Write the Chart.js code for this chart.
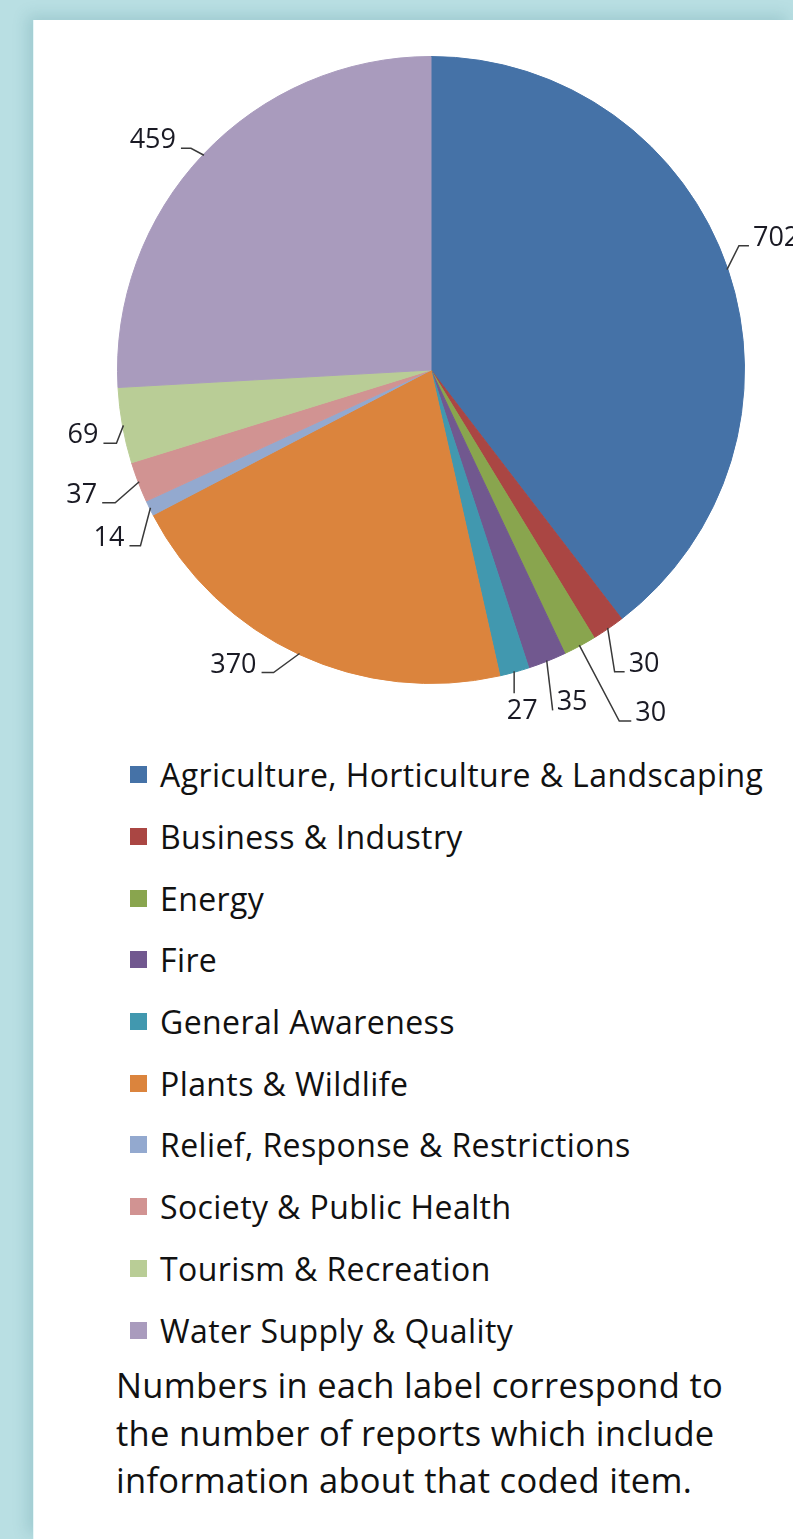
<!DOCTYPE html>
<html>
<head>
<meta charset="utf-8">
<script src="https://cdn.jsdelivr.net/npm/chart.js@4/dist/chart.umd.min.js"></script>
<style>
  html, body { margin: 0; padding: 0; }
  body {
    width: 793px; height: 1539px; overflow: hidden; position: relative;
    background: #b9dfe3;
    font-family: "Open Sans", Lato, sans-serif;
  }
  .panel {
    position: absolute; left: 33px; top: 20px; right: 0; bottom: 0;
    background: #fff;
    border-left: 1px solid #e6f6f8;
    box-shadow: -6px -5px 14px rgba(40, 110, 120, 0.18);
  }
  #pie { position: absolute; left: 0; top: 0; }
  #legend {
    position: absolute; left: 130px; top: 744px;
    margin: 0; padding: 0; list-style: none;
  }
  #legend li {
    height: 61.7px; display: flex; align-items: center;
    font-size: 32px; letter-spacing: 0.4px; color: #111; white-space: nowrap;
  }
  #legend .box { width: 17px; height: 17px; margin-right: 13px; flex: none; }
  .note {
    position: absolute; left: 116px; top: 1361px;
    font-size: 34.5px; letter-spacing: 0.3px; line-height: 47.5px; color: #111;
    white-space: nowrap;
  }
</style>
</head>
<body>
<div class="panel"></div>
<canvas id="pie" width="793" height="730"></canvas>
<ul id="legend"></ul>
<div class="note">Numbers in each label correspond to<br>the number of reports which include<br>information about that coded item.</div>

<script>
// Reports per coded item
const categories = [
  'Agriculture, Horticulture & Landscaping',
  'Business & Industry',
  'Energy',
  'Fire',
  'General Awareness',
  'Plants & Wildlife',
  'Relief, Response & Restrictions',
  'Society & Public Health',
  'Tourism & Recreation',
  'Water Supply & Quality'
]
const reportCounts = [702, 30, 30, 35, 27, 370, 14, 37, 69, 459]

// Excel 2010 default palette
const sliceColors = [
  '#4572a7', '#aa4643', '#89a54e', '#71588f', '#4198af',
  '#db843d', '#93a9cf', '#d19392', '#b9cd96', '#a99bbd'
]

// Leader line shape per slice: elbow offset from slice edge, then horizontal run
// mode: 'side' = text at end of line, 'below' = text under a vertical line
const leaderShapes = [
  { ex: 12, ey: -24, hx: 10 },
  { ex: 7, ey: 44, hx: 10 },
  { ex: 40, ey: 76, hx: 12 },
  { ex: 6, ey: 50, hx: 0 },
  { ex: 0, ey: 22, hx: 0, mode: 'below' },
  { ex: -26, ey: 19, hx: -12 },
  { ex: -10, ey: 38, hx: -11 },
  { ex: -24, ey: 21, hx: -13 },
  { ex: -7, ey: 18, hx: -13 },
  { ex: -13, ey: -7, hx: -10 }
]

// Draws the value labels with Excel-style elbow leader lines
const leaderLabels = {
  id: 'leaderLabels',
  afterDatasetsDraw(chart) {
    const ctx = chart.ctx
    const meta = chart.getDatasetMeta(0)
    ctx.save()
    ctx.font = '27px "Open Sans", Lato, sans-serif'
    ctx.fillStyle = '#1a1a24'
    ctx.strokeStyle = '#3a3a3a'
    ctx.lineWidth = 1.5
    meta.data.forEach((arc, i) => {
      const { x, y, startAngle, endAngle, outerRadius } = arc.getProps(['x', 'y', 'startAngle', 'endAngle', 'outerRadius'], true)
      const mid = (startAngle + endAngle) / 2
      const ax = x + Math.cos(mid) * (outerRadius - 1)
      const ay = y + Math.sin(mid) * (outerRadius - 1)
      const s = leaderShapes[i]
      const bx = ax + s.ex, by = ay + s.ey
      const cx = bx + s.hx
      ctx.beginPath()
      ctx.moveTo(ax, ay)
      ctx.lineTo(bx, by)
      if (s.hx) ctx.lineTo(cx, by)
      ctx.stroke()

      const text = String(chart.data.datasets[0].data[i])
      if (s.mode === 'below') {
        ctx.textAlign = 'center'
        ctx.textBaseline = 'top'
        ctx.fillText(text, bx + 8, by + 5)
      } else {
        ctx.textBaseline = 'alphabetic'
        ctx.textAlign = s.hx < 0 ? 'right' : 'left'
        ctx.fillText(text, cx + (s.hx < 0 ? -5 : 4), by)
      }
    })
    ctx.restore()
  }
}

const chart = new Chart(document.getElementById('pie'), {
  type: 'pie',
  data: {
    labels: categories,
    datasets: [{
      data: reportCounts,
      backgroundColor: sliceColors,
      borderColor: sliceColors,
      borderWidth: 1
    }]
  },
  options: {
    responsive: false,
    animation: false,
    layout: { padding: { left: 117, right: 48, top: 56, bottom: 46 } },
    plugins: {
      legend: { display: false },
      tooltip: { enabled: false }
    }
  },
  plugins: [leaderLabels]
})

// HTML legend, one item per row
const legendEl = document.getElementById('legend')
chart.data.labels.forEach((label, i) => {
  const li = document.createElement('li')
  const box = document.createElement('span')
  box.className = 'box'
  box.style.background = sliceColors[i]
  li.appendChild(box)
  li.appendChild(document.createTextNode(label))
  legendEl.appendChild(li)
})
</script>
</body>
</html>
